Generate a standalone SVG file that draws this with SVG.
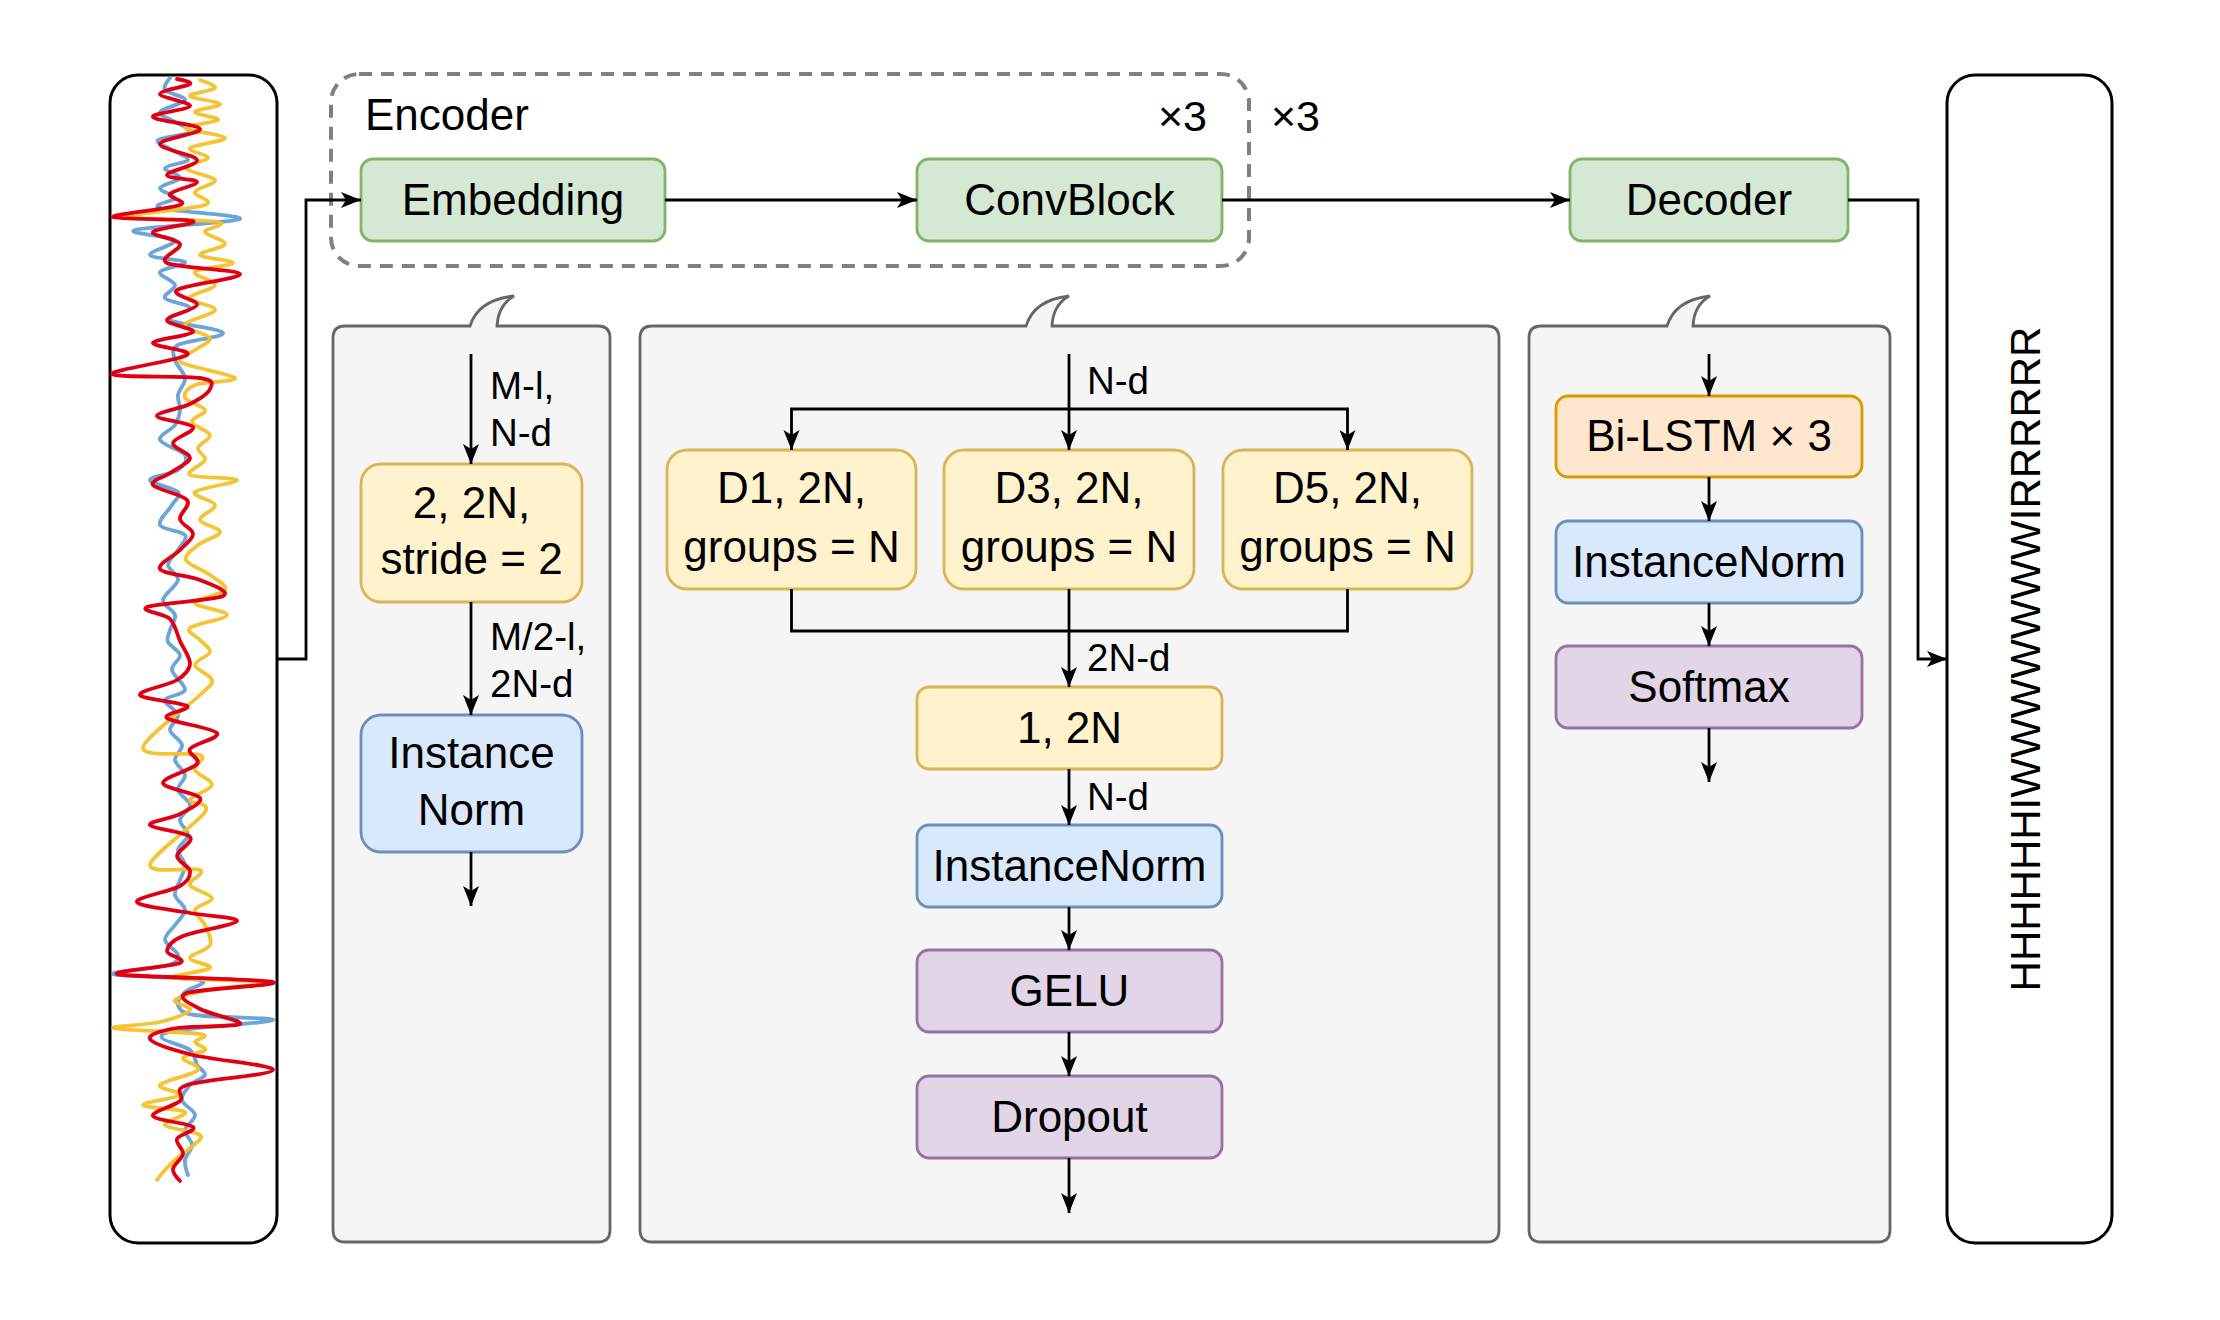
<svg xmlns="http://www.w3.org/2000/svg" width="2220" height="1320" viewBox="0 0 2220 1320">
<defs>
<style>
text{font-family:"Liberation Sans",Arial,Helvetica,sans-serif;fill:#000}
.bt{font-size:44px;text-anchor:middle}
.el{font-size:38.5px}
.edge{fill:none;stroke:#000;stroke-width:2.8}
.arr{marker-end:url(#arrow)}
.green{fill:#d5e8d4;stroke:#82b366;stroke-width:2.8}
.yellow{fill:#fff2cc;stroke:#d6b656;stroke-width:2.8}
.blue{fill:#dae8fc;stroke:#6c8ebf;stroke-width:2.8}
.purple{fill:#e1d5e7;stroke:#9673a6;stroke-width:2.8}
.orange{fill:#ffe6cc;stroke:#d79b00;stroke-width:2.8}
.panel{fill:#f5f5f5;stroke:#666666;stroke-width:2.8}
.frame{fill:#fff;stroke:#000;stroke-width:3}
.sig{fill:none;stroke-width:3.8;stroke-linejoin:round;stroke-linecap:round}
</style>
<marker id="arrow" markerUnits="userSpaceOnUse" markerWidth="22" markerHeight="18" refX="20" refY="9" orient="auto">
<path d="M0,1 L20,9 L0,17 L5,9 Z" fill="#000"/>
</marker>
</defs>
<rect width="2220" height="1320" fill="#fff"/>

<g id="signal-input">
<rect class="frame" x="110" y="75" width="167" height="1168" rx="28"/>
<path class="sig" stroke="#5b9bd5" stroke-opacity="0.9" d="M170,78 S162.5,86.3 165,90 S185.8,96.3 185,100 S161.7,108.3 160,112 S170,118.7 175,122 S192.8,129 190,132 S161,137 158,140 S167,146.7 172,150 S189.2,157 188,160 S166.3,165 165,168 S180.8,174.7 180,178 S160.8,184.7 160,188 S175,194.7 175,198 S149.2,204.5 160,208 S244.2,215.3 240,219 S145.8,226.5 135,230 S172.5,235.8 175,240 S148.3,251.3 150,255 S183.3,259.2 185,262 S161.7,268.2 160,272 S174.2,280.7 175,285 S162.5,294.2 165,298 S189.2,304.3 190,308 S164.5,315.8 170,320 S221.7,328.8 223,333 S186,340.5 178,345 S173.8,354.5 175,360 S184.5,372.2 185,378 S178.8,389.7 178,395 S180.5,405 180,410 S178.3,420 175,425 S158.3,435 160,440 S182,450 185,455 S183.8,465.8 178,470 S150,476.3 150,480 S174.3,487.8 178,492 S175,499.5 172,505 S157.8,520 160,525 S182,530.8 185,535 S180.8,545 178,550 S168,560 168,565 S178.8,574.2 178,580 S163.5,594.2 163,600 S173.8,610 175,615 S171.2,625.5 170,630 S166.3,637.8 168,642 S179.3,650.3 180,655 S171.2,664.2 172,670 S186.2,685 185,690 S166.2,695.8 165,700 S177.2,710 178,715 S169.3,725 170,730 S181.2,740 182,745 S174.5,755 175,760 S184.5,770 185,775 S177.2,785 178,790 S189.7,800 190,805 S180.3,815 180,820 S188.3,830 188,835 S178.5,845 178,850 S184.7,860 185,865 S181.7,875 180,880 S174.2,890 175,895 S185,905 185,910 S178.3,920 175,925 S164.5,935 165,940 S177.5,950.8 178,955 S178.8,961.8 168,965 S112,971.5 113,974 S188,977 200,980 S188.7,987.8 185,992 S176.3,1001.2 178,1005 S179.2,1012.5 195,1015 S274,1017.5 273,1020 S198.5,1027 180,1030 S160.3,1034.7 162,1038 S184.2,1045.5 190,1050 S194.5,1060.8 197,1065 S206.2,1071.7 205,1075 S193.8,1080.8 190,1085 S181.2,1095 182,1100 S194.5,1110 195,1115 S185.5,1125 185,1130 S192,1140 192,1145 S185.7,1155 185,1160 S188,1175 188,1175"/>
<path class="sig" stroke="#f4c12a" stroke-opacity="0.95" d="M200,80 S216.7,85.3 215,88 S189.2,93.3 190,96 S219.2,101.3 220,104 S195.3,109.3 195,112 S219.7,117.3 218,120 S183.8,125 185,128 S224.2,134.7 225,138 S192.8,144.7 190,148 S208.8,154.7 208,158 S183.8,164.3 185,168 S213.3,176 215,180 S196.7,187.8 195,192 S216.3,200.8 205,205 S124.8,214.2 127,217 S205,219.5 218,222 S203.8,228.3 205,232 S225.8,240.2 225,244 S198.7,251.8 200,255 S233.8,260.2 233,263 S198,268.3 195,272 S215.8,280.7 215,285 S190,293.8 190,298 S215.8,305.5 215,310 S185.8,320.3 185,325 S208.3,333.8 210,338 S200,346 195,350 S173.3,357.3 180,362 S232.5,374.2 235,378 S203.3,381.7 195,385 S183.3,393.8 185,398 S203.8,406 205,410 S191.2,417.8 192,422 S209,430.7 210,435 S198.8,443.8 198,448 S206.3,455.5 205,460 S184.7,471.7 190,475 S236.2,477.2 237,480 S198.7,487.8 195,492 S214.2,500.3 215,505 S199.2,515.5 200,520 S220.3,527.8 220,532 S203.7,540.3 198,545 S184,555 186,560 S203.5,570 210,575 S227.5,585.3 225,590 S194.7,598.8 195,603 S227.8,610.8 227,615 S194.5,623.8 190,628 S196.7,636 200,640 S210.8,647.8 210,652 S194.7,660.3 195,665 S211.2,675 212,680 S211.5,683.7 200,695 S143,738 143,748 S191.3,751.3 200,755 S193,765 195,770 S212.8,780 212,785 S191.2,795.5 190,800 S211.7,801.2 205,812 S150.8,855.3 150,865 S193.3,866.7 200,870 S188,880.3 190,885 S211.2,893.8 212,898 S196.2,905.5 195,910 S202.5,919.2 205,925 S212.5,939.5 210,945 S190,954.2 190,958 S212.5,964.7 210,968 S164,975.7 175,978 S266.2,980 272,982 S226.2,987 210,990 S178.3,996.7 175,1000 S192.5,1006.3 190,1010 S172.8,1019 160,1022 S112,1026 113,1028 S186.3,1031.7 200,1034 S194.2,1039.3 195,1042 S207,1047.3 205,1050 S184.2,1054.7 183,1058 S201.8,1065.5 198,1070 S163,1080.8 160,1085 S182.8,1091.7 180,1095 S142.2,1102.2 143,1105 S181.3,1108.7 185,1112 S162.5,1121.2 165,1125 S195.8,1131.2 200,1135 S194.2,1143.8 190,1148 S179.2,1156.3 175,1160 S168,1166.7 165,1170 S157,1180 157,1180"/>
<path class="sig" stroke="#e00012" d="M177,79 S192.8,81.5 190,84 S160,90.3 160,94 S191.2,102.2 190,106 S151.3,113.2 153,117 S198.8,124.5 200,129 S160.5,138.8 160,144 S195.8,154.8 197,160 S167,171.3 167,175 S196.5,178.8 197,182 S172.8,190.2 170,194 S189.5,201.2 180,205 S110.8,214.3 113,217 S186.3,218.5 193,221 S155.2,228.2 153,232 S177.7,238.8 180,244 S157,258 167,263 S238.3,269.5 240,274 S184.2,284.8 177,290 S198.7,300 197,305 S167.7,315.5 167,320 S195.3,328.2 193,332 S154,339.2 153,343 S193.8,349.8 187,355 S109.8,370.2 112,374 S183.7,375.5 200,378 S211.7,384.7 210,389 S198.8,399.5 190,404 S156.5,412.2 157,416 S190.3,422.5 193,427 S173.5,437.8 173,443 S190.5,453 190,458 S176.2,468.5 170,473 S150.2,480.5 153,485 S182.5,494.3 187,500 S179,513.3 180,519 S193,528.8 193,534 S185.5,544.2 180,550 S156.7,564 160,569 S189.5,575.5 200,580 S231.8,591.5 223,596 S155.8,603.2 147,607 S164.5,613.3 170,619 S176.7,633.5 180,641 S190.5,657.5 190,664 S185.3,674.8 177,680 S138.3,690.7 140,695 S182.5,702.2 187,706 S162,713.5 167,718 S213.2,727.8 217,733 S193.3,743.8 190,749 S201.5,758.3 197,764 S162.5,777.3 163,783 S197.2,792.8 200,798 S188.3,809.5 180,814 S148.3,821.2 150,825 S185.5,831.8 190,837 S177,850.3 177,856 S189.5,866 190,871 S188.8,880.8 180,886 S135.3,897.5 137,902 S173.3,909.8 190,913 S238.2,917.2 237,921 S194.7,931 183,936 S167.5,946.5 167,951 S188.3,959.2 180,963 S112,971 117,974 S261.3,978.8 273,982 S199.2,988.5 187,993 S191.2,1003.8 200,1009 S243.8,1020.8 240,1024 S192,1025.5 177,1028 S147.3,1034.5 150,1039 S172.5,1049.8 193,1055 S274,1065 273,1070 S202.5,1079.8 187,1085 S185.7,1095.8 180,1101 S150.8,1111.7 153,1116 S189,1123.2 193,1127 S178.7,1134.5 177,1139 S183.7,1149 183,1154 S173.5,1164.5 173,1169 S180,1181 180,1181"/>
</g>

<g id="encoder">
<rect x="331" y="74" width="918" height="192" rx="28" fill="none" stroke="#808080" stroke-width="4" stroke-dasharray="13 9"/>
<text x="365" y="130" style="font-size:44px">Encoder</text>
<text x="1158" y="131" style="font-size:43px">×3</text>
</g>
<text id="repeat-label" x="1271" y="131" style="font-size:43px">×3</text>

<g id="embedding">
<rect class="green" x="361" y="159" width="304" height="82" rx="12"/>
<text class="bt" x="513" y="215">Embedding</text>
</g>
<g id="convblock">
<rect class="green" x="917" y="159" width="305" height="82" rx="12"/>
<text class="bt" x="1069.5" y="215">ConvBlock</text>
</g>
<g id="decoder">
<rect class="green" x="1570" y="159" width="278" height="82" rx="12"/>
<text class="bt" x="1709" y="215">Decoder</text>
</g>

<g id="output">
<rect class="frame" x="1947" y="75" width="165" height="1168" rx="28"/>
<text x="2025" y="659" transform="rotate(-90 2025 659)" style="font-size:42px;text-anchor:middle;dominant-baseline:central">HHHHHHIWWWWWWWIRRRRRR</text>
</g>

<g id="panel-embedding">
<path class="panel" d="M345,326 H470 Q478,300 514,296 Q498,305 497,326 H598 Q610,326 610,338 V1230 Q610,1242 598,1242 H345 Q333,1242 333,1230 V338 Q333,326 345,326 Z"/>
</g>
<g id="panel-convblock">
<path class="panel" d="M652,326 H1026 Q1034,300 1069,296 Q1053,305 1052,326 H1487 Q1499,326 1499,338 V1230 Q1499,1242 1487,1242 H652 Q640,1242 640,1230 V338 Q640,326 652,326 Z"/>
</g>
<g id="panel-decoder">
<path class="panel" d="M1541,326 H1667 Q1675,300 1710,296 Q1694,305 1693,326 H1878 Q1890,326 1890,338 V1230 Q1890,1242 1878,1242 H1541 Q1529,1242 1529,1230 V338 Q1529,326 1541,326 Z"/>
</g>

<g id="conv-stride">
<rect class="yellow" x="361" y="464" width="221" height="138" rx="20"/>
<text class="bt" x="471.5" y="518">2, 2N,</text>
<text class="bt" x="471.5" y="574">stride = 2</text>
</g>
<g id="instnorm-1">
<rect class="blue" x="361" y="715" width="221" height="137" rx="20"/>
<text class="bt" x="471.5" y="768">Instance</text>
<text class="bt" x="471.5" y="825">Norm</text>
</g>

<g id="d1">
<rect class="yellow" x="667" y="450" width="249" height="139" rx="20"/>
<text class="bt" x="791.5" y="503">D1, 2N,</text>
<text class="bt" x="791.5" y="562">groups = N</text>
</g>
<g id="d3">
<rect class="yellow" x="944" y="450" width="250" height="139" rx="20"/>
<text class="bt" x="1069" y="503">D3, 2N,</text>
<text class="bt" x="1069" y="562">groups = N</text>
</g>
<g id="d5">
<rect class="yellow" x="1223" y="450" width="249" height="139" rx="20"/>
<text class="bt" x="1347.5" y="503">D5, 2N,</text>
<text class="bt" x="1347.5" y="562">groups = N</text>
</g>
<g id="pointwise">
<rect class="yellow" x="917" y="687" width="305" height="82" rx="12"/>
<text class="bt" x="1069.5" y="743">1, 2N</text>
</g>
<g id="instnorm-2">
<rect class="blue" x="917" y="825" width="305" height="82" rx="12"/>
<text class="bt" x="1069.5" y="881">InstanceNorm</text>
</g>
<g id="gelu">
<rect class="purple" x="917" y="950" width="305" height="82" rx="12"/>
<text class="bt" x="1069.5" y="1006">GELU</text>
</g>
<g id="dropout">
<rect class="purple" x="917" y="1076" width="305" height="82" rx="12"/>
<text class="bt" x="1069.5" y="1132">Dropout</text>
</g>

<g id="bilstm">
<rect class="orange" x="1556" y="396" width="306" height="81" rx="12"/>
<text class="bt" x="1709" y="451">Bi-LSTM × 3</text>
</g>
<g id="instnorm-3">
<rect class="blue" x="1556" y="521" width="306" height="82" rx="12"/>
<text class="bt" x="1709" y="577">InstanceNorm</text>
</g>
<g id="softmax">
<rect class="purple" x="1556" y="646" width="306" height="82" rx="12"/>
<text class="bt" x="1709" y="702">Softmax</text>
</g>

<g id="connectors">
<path class="edge arr" d="M277,659 H306 V200 H361"/>
<path class="edge arr" d="M665,200 H917"/>
<path class="edge arr" d="M1222,200 H1570"/>
<path class="edge arr" d="M1848,200 H1918 V659 H1947"/>

<path class="edge arr" d="M471,354 V464"/>
<path class="edge arr" d="M471,602 V715"/>
<path class="edge arr" d="M471,852 V906"/>
<text class="el" x="490" y="399">M-l,</text>
<text class="el" x="490" y="446">N-d</text>
<text class="el" x="490" y="650">M/2-l,</text>
<text class="el" x="490" y="697">2N-d</text>

<path class="edge arr" d="M1069,354 V450"/>
<path class="edge arr" d="M1069,409 H791.5 V450"/>
<path class="edge arr" d="M1069,409 H1347.5 V450"/>
<path class="edge" d="M791.5,589 V631 H1347.5 V589"/>
<path class="edge arr" d="M1069,589 V687"/>
<path class="edge arr" d="M1069,769 V825"/>
<path class="edge arr" d="M1069,907 V950"/>
<path class="edge arr" d="M1069,1032 V1076"/>
<path class="edge arr" d="M1069,1158 V1213"/>
<text class="el" x="1087" y="394">N-d</text>
<text class="el" x="1087" y="671">2N-d</text>
<text class="el" x="1087" y="810">N-d</text>

<path class="edge arr" d="M1709,354 V396"/>
<path class="edge arr" d="M1709,477 V521"/>
<path class="edge arr" d="M1709,603 V646"/>
<path class="edge arr" d="M1709,728 V782"/>
</g>
</svg>
